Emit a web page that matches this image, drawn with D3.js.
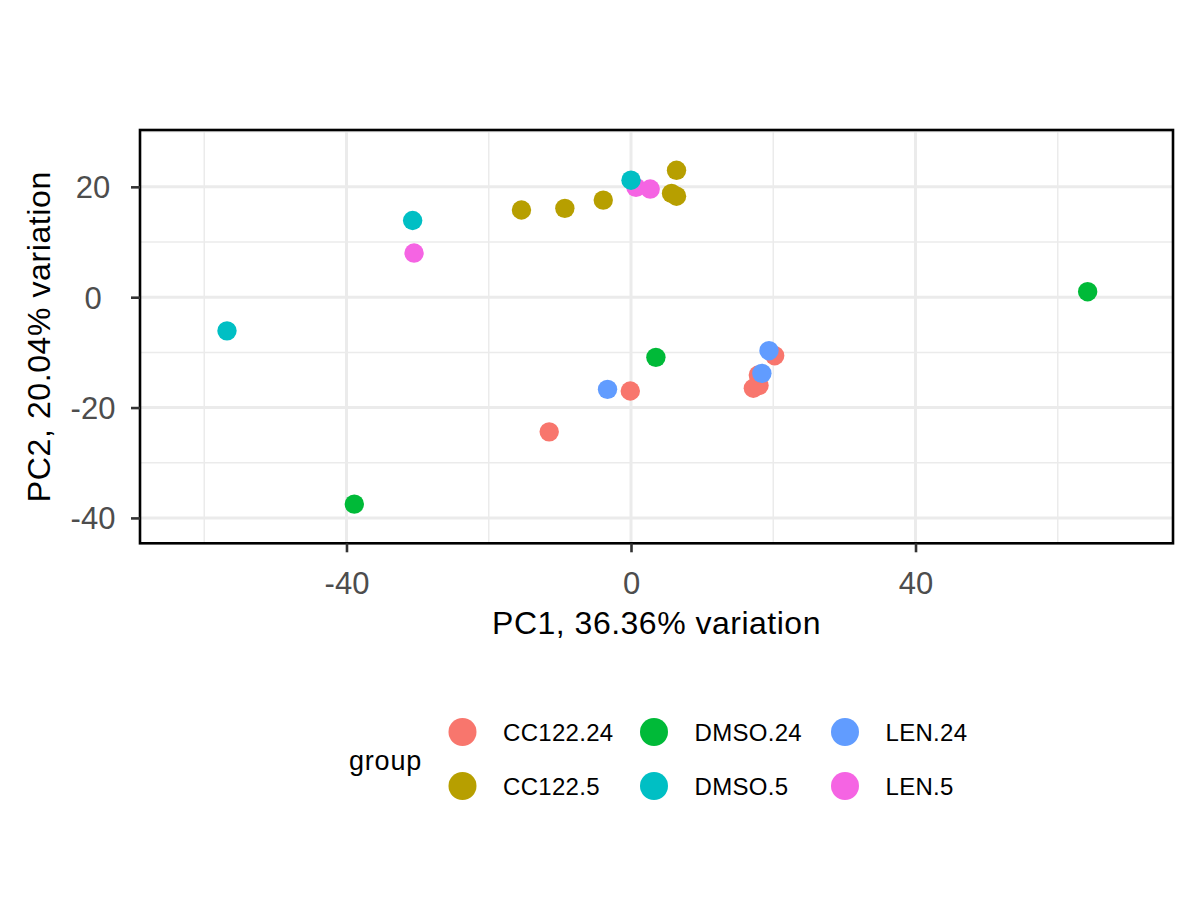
<!DOCTYPE html>
<html>
<head>
<meta charset="utf-8">
<script src="https://cdn.jsdelivr.net/npm/d3@7"></script>
<style>
  body { margin: 0; background: #ffffff; }
  text { font-family: "Liberation Sans", Arial, Helvetica, sans-serif; }
</style>
</head>
<body>
<div id="vis"></div>
<script>
var w = 1200;
var h = 900;

// groups and their ggplot hue colours
var groups = ['CC122.24', 'CC122.5', 'DMSO.24', 'DMSO.5', 'LEN.24', 'LEN.5'];
var groupColors = ['#F8766D', '#B79F00', '#00BA38', '#00BFC4', '#619CFF', '#F564E3'];

// samples (in drawing order)
var sampleGroup = [
  'CC122.24', 'CC122.24', 'CC122.24', 'CC122.24', 'CC122.24', 'CC122.24',
  'CC122.5', 'CC122.5', 'CC122.5', 'CC122.5', 'CC122.5', 'CC122.5',
  'LEN.24', 'LEN.24', 'LEN.24',
  'LEN.5', 'LEN.5', 'LEN.5',
  'DMSO.24', 'DMSO.24', 'DMSO.24',
  'DMSO.5', 'DMSO.5', 'DMSO.5'
];
var pc1 = [
  -11.5, -0.1, 20.2, 17.9, 17.2, 18.0,
  -15.4, -9.3, -3.9, 6.4, 5.7, 6.4,
  -3.3, 19.4, 18.4,
  -30.5, 0.7, 2.7,
  -38.9, 3.5, 64.2,
  -56.8, -30.7, 0.0
];
var pc2 = [
  -24.4, -17.0, -10.6, -14.1, -16.5, -16.0,
  15.8, 16.1, 17.6, 23.0, 18.8, 18.3,
  -16.7, -9.7, -13.8,
  8.0, 19.9, 19.6,
  -37.5, -10.9, 1.0,
  -6.1, 13.9, 21.2
];

var xMajor = [-40, 0, 40];
var xMinor = [-60, -20, 20, 60];
var yMajor = [-40, -20, 0, 20];
var yMinor = [-30, -10, 10, 30];

var xTitle = 'PC1, 36.36% variation';
var yTitle = 'PC2, 20.04% variation';
var legendTitle = 'group';

// panel box
var pLeft = 140, pRight = 1173, pTop = 130, pBottom = 543.3;

var svg = d3.select('#vis')
  .append('svg')
    .attr('width', w)
    .attr('height', h);

var x = d3.scaleLinear()
  .domain([-69.03, 76.2])
  .range([pLeft, pRight]);

var y = d3.scaleLinear()
  .domain([-44.6, 30.3])
  .range([pBottom, pTop]);

var color = d3.scaleOrdinal()
  .domain(groups)
  .range(groupColors);

svg.append('clipPath')
    .attr('id', 'panel-clip')
  .append('rect')
    .attr('x', pLeft)
    .attr('y', pTop)
    .attr('width', pRight - pLeft)
    .attr('height', pBottom - pTop);

var grid = svg.append('g').attr('clip-path', 'url(#panel-clip)');

function vLines(vals, cls, sw) {
  grid.selectAll('line.' + cls)
    .data(vals)
    .enter()
    .append('line')
      .attr('class', cls)
      .attr('x1', function(d) { return x(d); })
      .attr('x2', function(d) { return x(d); })
      .attr('y1', pTop)
      .attr('y2', pBottom)
      .style('stroke', '#ebebeb')
      .style('stroke-width', sw);
}

function hLines(vals, cls, sw) {
  grid.selectAll('line.' + cls)
    .data(vals)
    .enter()
    .append('line')
      .attr('class', cls)
      .attr('x1', pLeft)
      .attr('x2', pRight)
      .attr('y1', function(d) { return y(d); })
      .attr('y2', function(d) { return y(d); })
      .style('stroke', '#ebebeb')
      .style('stroke-width', sw);
}

// minor then major grid
vLines(xMinor, 'xminor', 1.5);
hLines(yMinor, 'yminor', 1.5);
vLines(xMajor, 'xmajor', 3);
hLines(yMajor, 'ymajor', 3);

// points
svg.append('g')
  .selectAll('circle')
  .data(d3.range(pc1.length))
  .enter()
  .append('circle')
    .attr('cx', function(i) { return x(pc1[i]); })
    .attr('cy', function(i) { return y(pc2[i]); })
    .attr('r', 9.7)
    .style('fill', function(i) { return color(sampleGroup[i]); });

// panel border
svg.append('rect')
  .attr('x', pLeft)
  .attr('y', pTop)
  .attr('width', pRight - pLeft)
  .attr('height', pBottom - pTop)
  .style('fill', 'none')
  .style('stroke', '#000000')
  .style('stroke-width', 2.6);

// axes
var fmt = function(d) { return String(d); };

var xAxis = svg.append('g')
  .attr('transform', 'translate(0,' + pBottom + ')')
  .call(d3.axisBottom(x).tickValues(xMajor).tickSize(9).tickFormat(fmt));

var yAxis = svg.append('g')
  .attr('transform', 'translate(' + pLeft + ',0)')
  .call(d3.axisLeft(y).tickValues(yMajor).tickSize(9).tickFormat(fmt));

svg.selectAll('.domain').remove();
svg.selectAll('.tick line')
  .style('stroke', '#333333')
  .style('stroke-width', 2.6);
svg.selectAll('.tick text')
  .style('fill', '#4d4d4d')
  .style('font-size', '31px')
  .style('font-family', '"Liberation Sans", Arial, sans-serif');

xAxis.selectAll('.tick text')
  .attr('y', 50.7)
  .attr('dy', 0);

yAxis.selectAll('.tick text')
  .attr('x', 93 - pLeft)
  .attr('dy', '0.35em')
  .attr('text-anchor', 'middle');

// axis titles
svg.append('text')
  .attr('x', (pLeft + pRight) / 2)
  .attr('y', 634)
  .attr('text-anchor', 'middle')
  .style('font-size', '32px')
  .style('letter-spacing', '0.5px')
  .style('fill', '#000000')
  .text(xTitle);

svg.append('text')
  .attr('transform', 'translate(50,' + ((pTop + pBottom) / 2) + ') rotate(-90)')
  .attr('text-anchor', 'middle')
  .style('font-size', '32px')
  .style('letter-spacing', '0.6px')
  .style('fill', '#000000')
  .text(yTitle);

// legend
var legend = svg.append('g');

legend.append('text')
  .attr('x', 349)
  .attr('y', 770)
  .style('font-size', '27px')
  .style('letter-spacing', '0.8px')
  .style('fill', '#000000')
  .text(legendTitle);

var colX = [462.5, 654, 845];
var rowY = [732, 786];

var keys = legend.selectAll('g.key')
  .data(groups)
  .enter()
  .append('g')
    .attr('class', 'key')
    .attr('transform', function(d, i) {
      return 'translate(' + colX[Math.floor(i / 2)] + ',' + rowY[i % 2] + ')';
    });

keys.append('circle')
  .attr('r', 14)
  .style('fill', function(d) { return color(d); });

keys.append('text')
  .attr('x', 40.5)
  .attr('y', 8.5)
  .style('font-size', '24px')
  .style('letter-spacing', '0.3px')
  .style('fill', '#000000')
  .text(function(d) { return d; });
</script>
</body>
</html>
